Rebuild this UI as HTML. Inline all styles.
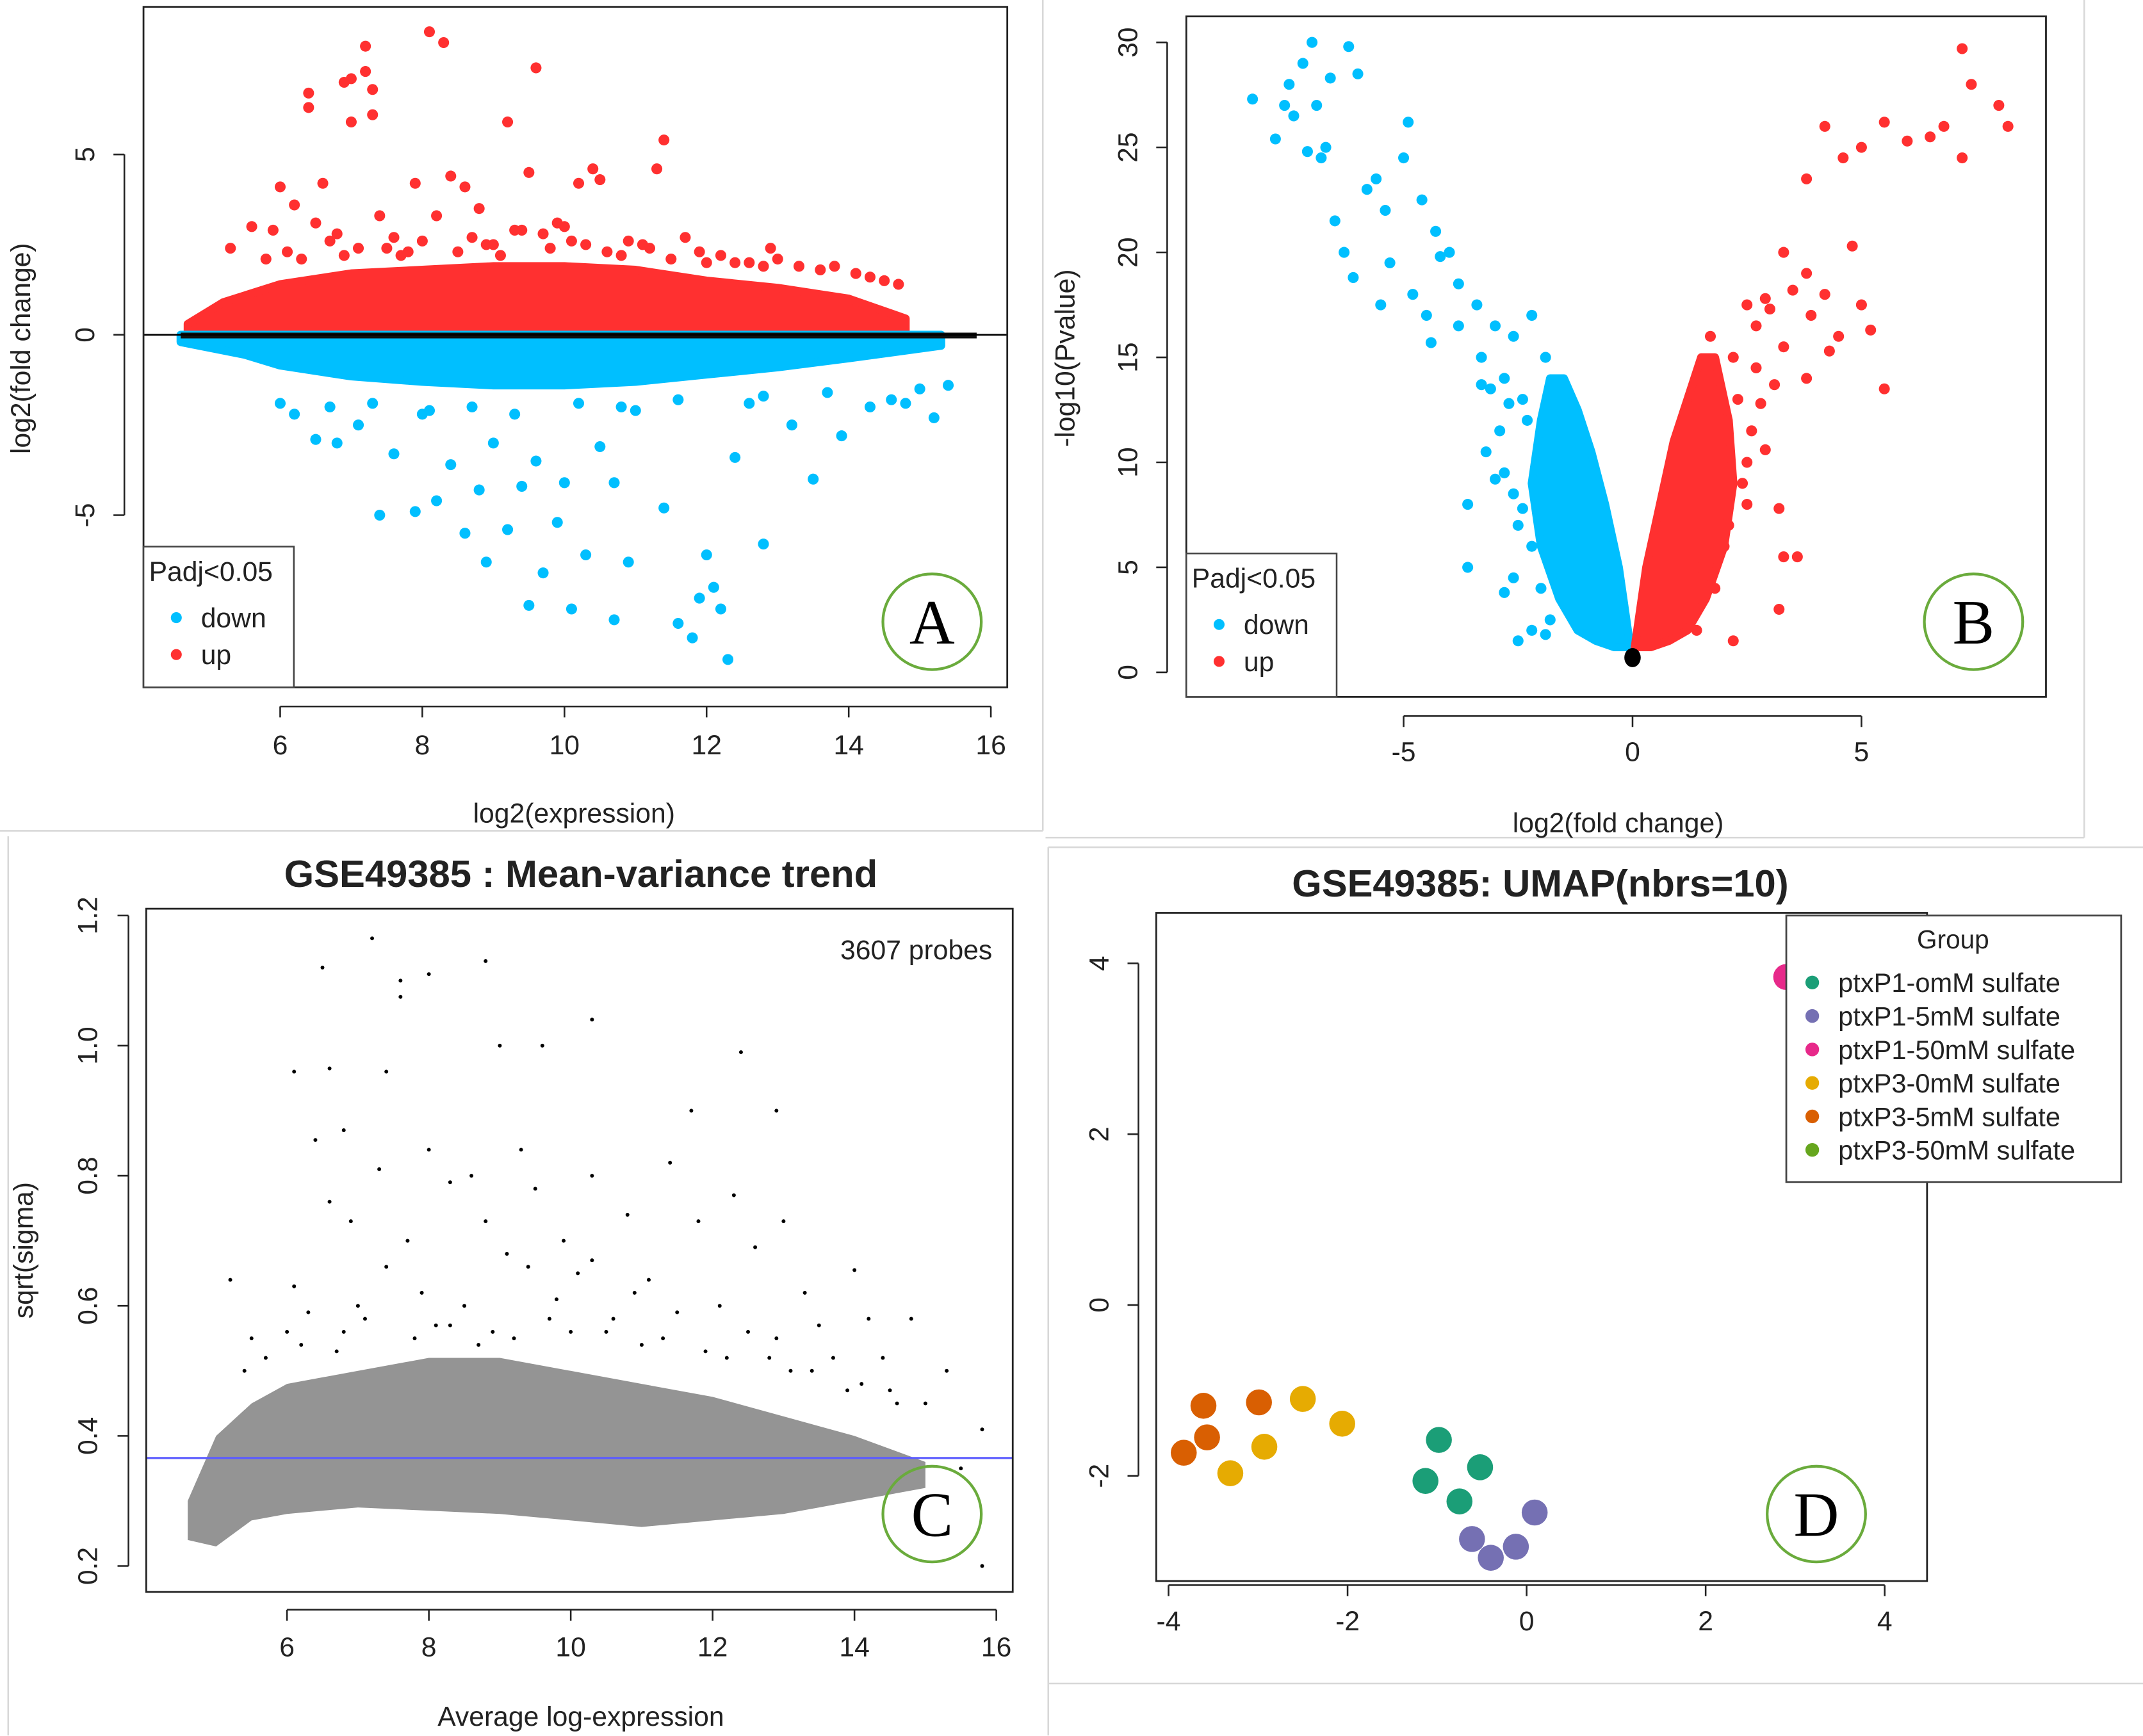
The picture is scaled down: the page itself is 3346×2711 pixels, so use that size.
<!DOCTYPE html>
<html><head><meta charset="utf-8">
<style>
html,body{margin:0;padding:0;background:#fff;}
svg{display:block;}
text{font-family:"Liberation Sans",sans-serif;fill:#222;}
</style></head>
<body>
<svg id="fig" width="3346" height="2711" viewBox="0 0 1568 1270.4" xmlns="http://www.w3.org/2000/svg">
<rect x="0" y="0" width="1568" height="1270.4" fill="#fff"/>
<g stroke="#d8d8d8" stroke-width="1.2" fill="none">
<line x1="763" y1="0" x2="763" y2="608"/>
<line x1="0" y1="608" x2="763" y2="608"/>
<line x1="1525" y1="0" x2="1525" y2="613"/>
<line x1="765" y1="613" x2="1525" y2="613"/>
<line x1="767" y1="620" x2="1568" y2="620"/>
<line x1="767" y1="1232" x2="1568" y2="1232"/>
<line x1="6" y1="612" x2="6" y2="1270"/>
<line x1="767" y1="620" x2="767" y2="1270"/>
</g>
</svg>
<script>
// ===== Panel A data (MA plot) =====
const aEnvX = [4.7,5.2,6,7,8,9,10,11,12,13,14,14.8];
const aUpEnv = [0.3,0.9,1.4,1.7,1.8,1.9,1.9,1.8,1.5,1.3,1.0,0.45];
const aEnvXd = [4.6,5.5,6,7,8,9,10,11,12,13,14,15.3];
const aDownEnv = [-0.2,-0.55,-0.85,-1.15,-1.3,-1.4,-1.4,-1.3,-1.1,-0.9,-0.65,-0.3];
const aUpX = [7.2,8.1,8.3,6.4,6.4,7.0,6.9,7.2,7.3,7.0,7.3,9.2,9.6,11.4,11.3,10.4,10.5,6.0,6.6,7.9,8.4,8.6,9.5,10.2,5.6,6.2,7.4,8.8,9.9,11.7,12.9,13.8,14.5,6.8,8.0,9.0,10.6,12.2,5.3,5.9,6.5,7.6,8.2,9.3,10.0,10.9,11.9,12.6,13.3,14.1,14.7,7.1,8.7,9.7,11.1,6.3,7.7,5.8,6.1,6.9,7.5,8.5,9.1,9.8,10.3,10.8,11.5,12.4,13.0,13.6,14.3,6.7,7.8,8.9,9.4,10.1,11.2,12.0,12.8];
const aUpY = [8.0,8.4,8.1,6.7,6.3,7.1,7.0,7.3,6.8,5.9,6.1,5.9,7.4,5.4,4.6,4.6,4.3,4.1,4.2,4.2,4.4,4.1,4.5,4.2,3.0,3.6,3.3,3.5,3.1,2.7,2.4,1.9,1.5,2.8,2.6,2.5,2.3,2.2,2.4,2.9,3.1,2.7,3.3,2.9,3.0,2.6,2.3,2.0,1.9,1.7,1.4,2.4,2.7,2.8,2.5,2.1,2.2,2.1,2.3,2.2,2.4,2.3,2.2,2.4,2.5,2.2,2.1,2.0,2.1,1.8,1.6,2.6,2.3,2.5,2.9,2.6,2.4,2.0,1.9];
const aDownX = [12.3,11.8,11.6,12.1,10.7,10.1,9.5,8.9,9.7,10.3,7.4,8.2,8.8,9.4,10.0,10.7,11.4,12.8,12.0,6.8,7.6,8.4,9.0,10.5,13.5,12.4,13.9,14.3,15.4,6.2,7.1,8.0,11.0,12.8,9.2,9.9,10.9,8.6,7.9,11.9,12.2,13.2,14.6,15.0,6.5,9.6,6.0,6.7,7.3,8.1,8.7,9.3,10.2,10.8,11.6,12.6,13.7,14.8,15.2];
const aDownY = [-9.0,-8.4,-8.0,-7.0,-7.9,-7.6,-7.5,-6.3,-6.6,-6.1,-5.0,-4.6,-4.3,-4.2,-4.1,-4.1,-4.8,-5.8,-6.1,-3.0,-3.3,-3.6,-3.0,-3.1,-4.0,-3.4,-2.8,-2.0,-1.4,-2.2,-2.5,-2.2,-2.1,-1.7,-5.4,-5.2,-6.3,-5.5,-4.9,-7.3,-7.6,-2.5,-1.8,-1.5,-2.9,-3.5,-1.9,-2.0,-1.9,-2.1,-2.0,-2.2,-1.9,-2.0,-1.8,-1.9,-1.6,-1.9,-2.3];
const aTicksX = [6,8,10,12,14,16];
const aTicksY = [-5,0,5];

// ===== Panel B data (volcano) =====
const bDownPolyX = [-0.05,-0.3,-0.6,-0.9,-1.2,-1.5,-1.8,-2.0,-2.2,-2.0,-1.6,-1.2,-0.8,-0.4,-0.15];
const bDownPolyY = [1.2,5,8,10.5,12.5,14,14,12,9,6,3.5,2,1.5,1.2,1.2];
const bUpPolyX = [0.05,0.3,0.6,0.9,1.2,1.5,1.8,2.1,2.2,2.0,1.6,1.2,0.8,0.4,0.15];
const bUpPolyY = [1.2,5,8,11,13,15,15,12,9,6,3.5,2,1.5,1.2,1.2];
const bDownX = [-8.3,-7.8,-7.5,-7.2,-7.0,-6.9,-7.4,-6.7,-6.2,-6.0,-6.6,-7.6,-5.8,-5.0,-4.9,-5.4,-6.5,-6.3,-5.3,-4.6,-4.3,-4.0,-4.8,-5.5,-4.5,-3.8,-3.4,-3.0,-2.2,-2.6,-3.8,-3.3,-4.4,-2.8,-2.4,-1.9,-3.6,-3.6,-2.8,-2.5,-2.2,-3.2,-2.0,-1.8,-2.1,-1.5,-2.8,-2.5,-6.8,-5.6,-4.2,-3.1,-7.1,-6.1,-2.3,-1.6,-3.0,-2.6,-2.4,-2.9,-2.7,-3.3,-2.2,-1.9,-1.7,-2.6];
const bDownY = [27.3,25.4,28,29,30,27,26.5,25,29.8,28.5,28.3,27,23,24.5,26.2,22,21.5,20,19.5,22.5,21,20,18,17.5,17,18.5,17.5,16.5,17,16,16.5,15,15.7,14,13,15,8,5,9.5,7,6,10.5,4,2.5,10,3.5,3.8,1.5,24.5,23.5,19.8,13.5,24.8,18.8,12,12,9.2,8.5,7.8,11.5,12.8,13.7,2,1.8,5.5,4.5];
const bUpX = [8.2,8.0,7.4,7.2,6.8,6.5,6.0,5.5,7.2,5.0,4.6,4.2,3.8,3.3,3.8,4.2,4.8,5.0,5.2,4.5,3.9,5.5,3.8,2.9,2.5,2.2,3.3,3.2,3.2,3.6,3.3,2.5,2.5,2.0,1.8,1.4,2.2,1.5,2.0,1.7,3.0,2.7,4.3,3.5,2.3,2.6,2.8,2.4,2.1,2.7,3.1,2.9];
const bUpY = [26,27,28,29.7,26,25.5,25.3,26.2,24.5,25,24.5,26,23.5,20,19,18,20.3,17.5,16.3,16,17,13.5,14,17.8,17.5,15,15.5,7.8,3,5.5,5.5,10,8,6,4,2,1.5,5,12,16,17.3,14.5,15.3,18.2,13,11.5,12.8,9,7,16.5,13.7,10.6];
const bTicksX = [-5,0,5];
const bTicksY = [0,5,10,15,20,25,30];

// ===== Panel C data (mean-variance) =====
const cEnvX = [4.6,5.0,5.5,6,7,8,9,10,11,12,13,14,15];
const cLow = [0.24,0.23,0.27,0.28,0.29,0.285,0.28,0.27,0.26,0.27,0.28,0.30,0.32];
const cHigh = [0.30,0.40,0.45,0.48,0.50,0.52,0.52,0.50,0.48,0.46,0.43,0.40,0.36];
const cPtsX = [7.2,6.5,7.6,7.6,8.0,8.8,10.3,12.4,6.1,6.6,7.4,9.0,9.6,11.7,12.9,6.4,6.8,8.0,9.3,10.3,11.4,12.3,7.3,8.3,8.6,6.9,9.5,10.8,11.8,13.0,6.1,7.7,9.1,10.1,12.6,14.0,14.2,14.8,15.3,15.8,15.8,5.2,6.0,8.5,10.9,13.5,14.5,15.0,15.5,7.0,11.5,9.8,12.9,6.6,8.8,10.3,13.7,5.5,7.9,9.4,11.1,12.1,13.3,14.4,6.3,8.1,10.6,12.5,7.4,9.9,5.7,6.2,6.8,7.1,7.8,8.3,8.9,9.2,9.7,10.5,11.0,11.9,12.8,13.4,14.1,14.6,5.4,6.7,8.7,10.0,11.3,12.2,13.1,13.9];
const cPtsY = [1.165,1.12,1.10,1.075,1.11,1.13,1.04,0.99,0.96,0.965,0.96,1.0,1.0,0.90,0.90,0.855,0.87,0.84,0.84,0.80,0.82,0.77,0.81,0.79,0.80,0.73,0.78,0.74,0.73,0.73,0.63,0.70,0.68,0.65,0.69,0.655,0.58,0.58,0.50,0.41,0.20,0.64,0.56,0.60,0.62,0.57,0.47,0.45,0.35,0.60,0.59,0.61,0.55,0.76,0.73,0.67,0.52,0.55,0.62,0.66,0.64,0.60,0.62,0.52,0.59,0.57,0.58,0.56,0.66,0.70,0.52,0.54,0.56,0.58,0.55,0.57,0.56,0.55,0.58,0.56,0.54,0.53,0.52,0.50,0.48,0.45,0.50,0.53,0.54,0.56,0.55,0.52,0.50,0.47];
const cTicksX = [6,8,10,12,14,16];
const cTicksY = [0.2,0.4,0.6,0.8,1.0,1.2];
const cTrend = 0.366;

// ===== Panel D data (UMAP) =====
const dGroups = ["ptxP1-omM sulfate","ptxP1-5mM sulfate","ptxP1-50mM sulfate","ptxP3-0mM sulfate","ptxP3-5mM sulfate","ptxP3-50mM sulfate"];
const dColors = ["#1B9E77","#7570B3","#E7298A","#E6AB02","#D95F02","#66A61E"];
const dX = [-0.98,-0.52,-1.13,-0.75, 0.09,-0.61,-0.40,-0.12, 2.9, -2.5,-2.06,-2.93,-3.31, -3.83,-3.61,-3.57,-2.99];
const dY = [-1.58,-1.90,-2.06,-2.30, -2.43,-2.74,-2.96,-2.83, 3.84, -1.10,-1.39,-1.66,-1.97, -1.73,-1.18,-1.55,-1.14];
const dG = [0,0,0,0, 1,1,1,1, 2, 3,3,3,3, 4,4,4,4];
const dTicks = [-4,-2,0,2,4];

const NS = "http://www.w3.org/2000/svg";
const svg = document.getElementById('fig');
function mk(tag, attrs, parent, txt){
  const e = document.createElementNS(NS, tag);
  for (const k in attrs) e.setAttribute(k, attrs[k]);
  if (txt !== undefined) e.textContent = txt;
  (parent || svg).appendChild(e);
  return e;
}
function lin(d0,d1,r0,r1){ return v => r0 + (v-d0)*(r1-r0)/(d1-d0); }

function frame(g, x0,y0,x1,y1){
  const r = mk('rect',{x:x0,y:y0,width:x1-x0,height:y1-y0,fill:'none',stroke:'#222','stroke-width':1.3},g);
  
  
}
function xAxis(g, ticks, sx, yb, fs, labOff){
  const ax = mk('g',{},g);
  
  
  mk('line',{x1:sx(ticks[0]),x2:sx(ticks[ticks.length-1]),y1:yb,y2:yb,stroke:'#222','stroke-width':1.2},ax);
  ticks.forEach(t=>{
    mk('line',{x1:sx(t),x2:sx(t),y1:yb,y2:yb+8,stroke:'#222','stroke-width':1.2},ax);
    const l = mk('text',{x:sx(t),y:yb+labOff,'text-anchor':'middle','font-size':fs},ax, String(t));
    
    
  });
}
function yAxis(g, ticks, sy, xl, fs, labOff, fmt){
  const ax = mk('g',{},g);
  
  
  mk('line',{x1:xl,x2:xl,y1:sy(ticks[0]),y2:sy(ticks[ticks.length-1]),stroke:'#222','stroke-width':1.2},ax);
  ticks.forEach(t=>{
    mk('line',{x1:xl-8,x2:xl,y1:sy(t),y2:sy(t),stroke:'#222','stroke-width':1.2},ax);
    const lx = xl-labOff;
    const l = mk('text',{x:lx,y:sy(t),'text-anchor':'middle','font-size':fs,transform:`rotate(-90 ${lx} ${sy(t)})`},ax, fmt?fmt(t):String(t));
    
    
  });
}
function axTitle(g, x, y, txt, rot, name, fs, bold){
  const a = {x:x,y:y,'text-anchor':'middle','font-size':fs||20};
  if (rot) a.transform = `rotate(-90 ${x} ${y})`;
  if (bold) a['font-weight']='bold';
  const t = mk('text',a,g,txt);
  
  
}
function badge(g, cx, cy, letter){
  const b = mk('g',{},g);
  
  
  mk('ellipse',{cx:cx,cy:cy,rx:36,ry:35,fill:'none',stroke:'#6aab3c','stroke-width':2},b);
  mk('text',{x:cx,y:cy+16,'text-anchor':'middle','font-size':46,style:'font-family:"Liberation Serif",serif;fill:#000'},b,letter);
}
function legendPadj(g, x0, y0, x1, y1){
  const lg = mk('g',{},g);
  
  
  mk('rect',{x:x0,y:y0,width:x1-x0,height:y1-y0,fill:'#fff',stroke:'#444','stroke-width':1.2},lg);
  mk('text',{x:x0+4,y:y0+25,'font-size':20},lg,'Padj<0.05');
  const e1 = mk('g',{},lg);
  
  
  mk('circle',{cx:x0+24,cy:y0+52,r:4,fill:'#00BFFF'},e1);
  mk('text',{x:x0+42,y:y0+59,'font-size':20},e1,'down');
  const e2 = mk('g',{},lg);
  
  
  mk('circle',{cx:x0+24,cy:y0+79,r:4,fill:'#FF3030'},e2);
  mk('text',{x:x0+42,y:y0+86,'font-size':20},e2,'up');
}
function polyBand(g, xs, top, bot, sx, sy, fill, name, op, sw){
  let d = '';
  xs.forEach((x,i)=>{ d += (i?'L':'M') + sx(x) + ' ' + sy(top[i]) + ' '; });
  for (let i=xs.length-1;i>=0;i--) d += 'L' + sx(xs[i]) + ' ' + sy(bot[i]) + ' ';
  const p = mk('path',{d:d+'Z',fill:fill,'fill-opacity':op||1,stroke:sw?fill:'none','stroke-width':sw||0,'stroke-linejoin':'round'},g);
  
  
}
function polyXY(g, xs, ys, sx, sy, fill, name){
  let d = '';
  xs.forEach((x,i)=>{ d += (i?'L':'M') + sx(x) + ' ' + sy(ys[i]) + ' '; });
  const p = mk('path',{d:d+'Z',fill:fill,stroke:fill,'stroke-width':6,'stroke-linejoin':'round'},g);
  
  
}
function dots(g, xs, ys, sx, sy, r, fill, name){
  const gg = mk('g',{},g);
  
  
  xs.forEach((x,i)=>{
    const c = mk('circle',{cx:sx(x),cy:sy(ys[i]),r:r,fill:fill},gg);
    
    
  });
}

// ---------- Panel A ----------
(function(){
  const g = mk('g',{});
  
  
  const sx = lin(6,16,205,725), sy = lin(0,5,245,113);
  polyBand(g, aEnvX, aUpEnv, aEnvX.map(()=>0), sx, sy, '#FF3030', 'up-dense-cloud', 1, 6);
  polyBand(g, aEnvXd, aEnvXd.map(()=>0), aDownEnv, sx, sy, '#00BFFF', 'down-dense-cloud', 1, 6);
  dots(g, aUpX, aUpY, sx, sy, 4, '#FF3030', 'up-points');
  dots(g, aDownX, aDownY, sx, sy, 4, '#00BFFF', 'down-points');
  const nb = mk('rect',{x:sx(4.6),y:sy(0.06),width:sx(15.8)-sx(4.6),height:sy(-0.1)-sy(0.06),fill:'#111'},g);
  
  
  const hl = mk('line',{x1:105,x2:737,y1:sy(0),y2:sy(0),stroke:'#000','stroke-width':1.3},g);
  
  
  frame(g,105,5,737,503);
  xAxis(g, aTicksX, sx, 517, 20, 35);
  yAxis(g, aTicksY, sy, 91, 20, 22);
  axTitle(g, 420, 602, 'log2(expression)', false, 'x-axis-title');
  axTitle(g, 22, 255, 'log2(fold change)', true, 'y-axis-title');
  legendPadj(g, 105, 400, 215, 503);
  badge(g, 682, 455, 'A');
})();

// ---------- Panel B ----------
(function(){
  const g = mk('g',{});
  
  
  const sx = lin(-5,5,1027,1362), sy = lin(0,30,492,31);
  polyXY(g, bDownPolyX, bDownPolyY, sx, sy, '#00BFFF', 'down-dense-cloud');
  polyXY(g, bUpPolyX, bUpPolyY, sx, sy, '#FF3030', 'up-dense-cloud');
  dots(g, bDownX, bDownY, sx, sy, 4, '#00BFFF', 'down-points');
  dots(g, bUpX, bUpY, sx, sy, 4, '#FF3030', 'up-points');
  const nb = mk('ellipse',{cx:sx(0),cy:sy(0.7),rx:6,ry:7,fill:'#000'},g);
  
  
  frame(g,868,12,1497,510);
  xAxis(g, bTicksX, sx, 524, 20, 33);
  yAxis(g, bTicksY, sy, 854, 20, 22);
  axTitle(g, 1184, 609, 'log2(fold change)', false, 'x-axis-title');
  axTitle(g, 786, 262, '-log10(Pvalue)', true, 'y-axis-title');
  legendPadj(g, 868, 405, 978, 510);
  badge(g, 1444, 455, 'B');
})();

// ---------- Panel C ----------
(function(){
  const g = mk('g',{});
  
  
  const sx = lin(6,16,210,729), sy = lin(0.2,1.2,1146,670);
  polyBand(g, cEnvX, cHigh, cLow, sx, sy, '#000', 'dense-point-cloud', 0.42, 0);
  dots(g, cPtsX, cPtsY, sx, sy, 1.4, '#000', 'sparse-points');
  const tl = mk('line',{x1:107,x2:741,y1:sy(cTrend),y2:sy(cTrend),stroke:'#5b5bff','stroke-width':1.5},g);
  
  
  frame(g,107,665,741,1165);
  xAxis(g, cTicksX, sx, 1178, 20, 34);
  yAxis(g, cTicksY, sy, 94, 20, 23, t=>t.toFixed(1));
  axTitle(g, 425, 649, 'GSE49385 : Mean-variance trend', false, 'chart-title', 28, true);
  axTitle(g, 425, 1263, 'Average log-expression', false, 'x-axis-title');
  axTitle(g, 24, 915, 'sqrt(sigma)', true, 'y-axis-title');
  const pr = mk('text',{x:726,y:702,'text-anchor':'end','font-size':20},g,'3607 probes');
  
  
  badge(g, 682, 1108, 'C');
})();

// ---------- Panel D ----------
(function(){
  const g = mk('g',{});
  
  
  const sx = lin(-4,4,855,1379), sy = lin(-2,4,1080,705);
  frame(g,846,668,1410,1157);
  dX.forEach((x,i)=>{
    const c = mk('circle',{cx:sx(x),cy:sy(dY[i]),r:9.5,fill:dColors[dG[i]]},g);
    
    
  });
  xAxis(g, dTicks, sx, 1160, 20, 33);
  yAxis(g, [-2,0,2,4], sy, 833, 20, 22);
  axTitle(g, 1127, 656, 'GSE49385: UMAP(nbrs=10)', false, 'chart-title', 28, true);
  const lg = mk('g',{},g);
  
  
  mk('rect',{x:1307,y:670,width:245,height:195,fill:'#fff',stroke:'#444','stroke-width':1.3},lg);
  mk('text',{x:1429,y:694,'text-anchor':'middle','font-size':19},lg,'Group');
  dGroups.forEach((name,i)=>{
    const e = mk('g',{},lg);
    
    
    const y = 719 + i*24.5;
    mk('circle',{cx:1326,cy:y,r:5,fill:dColors[i]},e);
    mk('text',{x:1345,y:y+7,'font-size':19.5},e,name);
  });
  badge(g, 1329, 1108, 'D');
})();
</script>
</body></html>
